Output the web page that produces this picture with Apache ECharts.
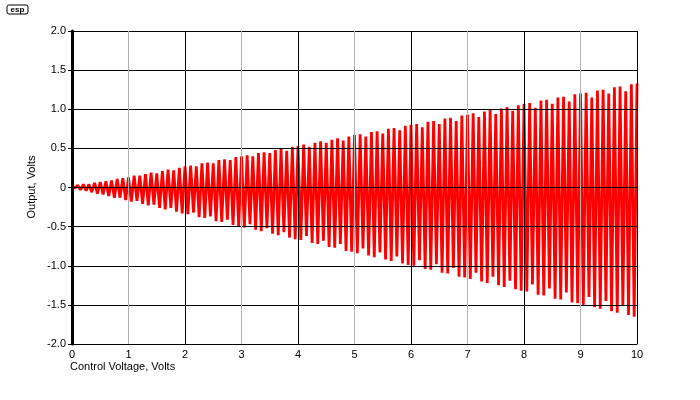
<!DOCTYPE html>
<html>
<head>
<meta charset="utf-8">
<script src="https://cdn.jsdelivr.net/npm/echarts@6/dist/echarts.min.js"></script>
<style>
html,body{margin:0;padding:0;background:#fff;}
#c{width:700px;height:400px;}
</style>
</head>
<body>
<div id="c"></div>
<script>
// Tick labels
const xTicks = [0,1,2,3,4,5,6,7,8,9,10];
const yTicks = [-2.0,-1.5,-1.0,-0.5,0,0.5,1.0,1.5,2.0];
// Signal: one trough and one peak per 0.1 V step of control voltage
const startValue = 0.02;
const cycleStep = 0.1;
const troughs = [
-0.01,-0.03,-0.04,-0.06,-0.08,-0.09,-0.11,-0.13,-0.13,-0.16,
-0.18,-0.17,-0.21,-0.23,-0.22,-0.26,-0.28,-0.26,-0.31,-0.33,
-0.34,-0.32,-0.38,-0.39,-0.37,-0.43,-0.44,-0.41,-0.48,-0.49,
-0.51,-0.47,-0.54,-0.56,-0.52,-0.59,-0.61,-0.57,-0.64,-0.66,
-0.67,-0.62,-0.71,-0.72,-0.68,-0.76,-0.77,-0.72,-0.81,-0.82,
-0.84,-0.78,-0.87,-0.89,-0.83,-0.92,-0.94,-0.88,-0.97,-0.99,
-1.00,-0.93,-1.04,-1.05,-0.98,-1.09,-1.10,-1.03,-1.14,-1.15,
-1.17,-1.09,-1.20,-1.22,-1.14,-1.25,-1.27,-1.19,-1.30,-1.32,
-1.33,-1.24,-1.37,-1.38,-1.29,-1.42,-1.43,-1.34,-1.47,-1.48,
-1.50,-1.40,-1.53,-1.55,-1.45,-1.58,-1.60,-1.50,-1.63,-1.65
];
const peaks = [
0.03,0.04,0.04,0.06,0.07,0.08,0.09,0.11,0.12,0.13,
0.15,0.15,0.17,0.19,0.18,0.21,0.23,0.22,0.25,0.27,
0.28,0.27,0.31,0.32,0.31,0.35,0.36,0.35,0.39,0.40,
0.41,0.40,0.44,0.45,0.44,0.48,0.49,0.47,0.52,0.53,
0.55,0.52,0.57,0.59,0.57,0.61,0.63,0.60,0.65,0.67,
0.68,0.65,0.71,0.72,0.69,0.75,0.76,0.73,0.79,0.80,
0.81,0.77,0.84,0.85,0.81,0.88,0.89,0.85,0.92,0.93,
0.95,0.90,0.97,0.99,0.94,1.01,1.03,0.98,1.05,1.07,
1.08,1.02,1.11,1.12,1.07,1.15,1.16,1.10,1.19,1.20,
1.21,1.15,1.24,1.25,1.20,1.28,1.29,1.23,1.32,1.33
];

const data = [[0, startValue]];
for (let i = 0; i < peaks.length; i++) {
  data.push([+(i*cycleStep + cycleStep/2).toFixed(3), troughs[i]]);
  data.push([+((i+1)*cycleStep).toFixed(3), peaks[i]]);
}

const FONT = 'Liberation Sans';
const chart = echarts.init(document.getElementById('c'), null, {renderer:'canvas'});
chart.setOption({
  animation: false,
  backgroundColor: '#fff',
  textStyle: {fontFamily: FONT},
  grid: {left: 72, right: 63, top: 31, bottom: 56, containLabel: false},
  xAxis: {
    type: 'value', min: 0, max: 10, interval: 1, z: 5,
    axisLine: {show: true, onZero: false, lineStyle: {color: '#000', width: 1}},
    axisTick: {show: false},
    axisLabel: {color: '#000', fontSize: 11, fontFamily: FONT, margin: 5,
      formatter: v => xTicks.includes(v) ? String(v) : ''},
    splitLine: {show: true, lineStyle: {color: ['#000000', '#b0b0b0'], width: 1}}
  },
  yAxis: {
    type: 'value', min: -2, max: 2, interval: 0.5, z: 5,
    axisLine: {show: true, onZero: false, lineStyle: {color: '#000', width: 3}},
    axisTick: {show: true, length: 4, lineStyle: {color: '#000', width: 1}},
    axisLabel: {color: '#000', fontSize: 11, fontFamily: FONT, margin: 6,
      formatter: v => { const t = yTicks.find(y => Math.abs(y - v) < 1e-9); return t === undefined ? '' : (t === 0 ? '0' : t.toFixed(1)); }},
    splitLine: {show: true, lineStyle: {color: '#000', width: 1}}
  },
  graphic: [
    {type: 'text', left: 70, top: 361, z: 10,
      style: {text: 'Control Voltage, Volts', fill: '#000', font: '11px ' + FONT}},
    {type: 'text', x: 32, y: 187, rotation: Math.PI/2, z: 10,
      style: {text: 'Output, Volts', fill: '#000', font: '11px ' + FONT, align: 'center', verticalAlign: 'middle'}},
    {type: 'rect', shape: {x: 7, y: 5, width: 21, height: 9, r: 2}, z: 10,
      style: {fill: '#fff', stroke: '#000', lineWidth: 1}},
    {type: 'text', x: 17.5, y: 9.5, z: 11,
      style: {text: 'esp', fill: '#000', font: 'bold 8px ' + FONT, align: 'center', verticalAlign: 'middle'}}
  ],
  series: [{
    type: 'line', data: data, showSymbol: false, z: 1,
    lineStyle: {color: '#ff0000', width: 2.8, join: 'bevel'},
    emphasis: {disabled: true}
  }]
});
</script>
</body>
</html>
